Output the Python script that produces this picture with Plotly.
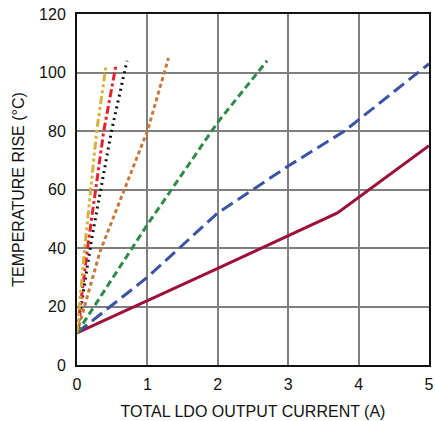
import plotly.graph_objects as go

# Temperature rise versus total LDO output current, one curve per configuration
x_solid = [0, 2.0, 3.7, 5.0]
y_solid = [11, 33, 52, 75]

x_blue = [0, 1.0, 2.0, 3.0, 3.8, 5.0]
y_blue = [11, 30, 52, 68, 80, 103]

x_green = [0, 1.0, 2.0, 2.7]
y_green = [11, 48, 83, 104]

x_orange = [0, 0.33, 1.0, 1.3]
y_orange = [11, 39, 80, 105]

x_black = [0, 0.2, 0.49, 0.71]
y_black = [11, 42, 80, 104]

x_red = [0, 0.15, 0.38, 0.55]
y_red = [11, 40, 80, 102]

x_yellow = [0, 0.11, 0.28, 0.41]
y_yellow = [11, 40, 80, 102]

x_ticks = [0, 1, 2, 3, 4, 5]
y_ticks = [0, 20, 40, 60, 80, 100, 120]

FONT = "Liberation Sans Narrow, Arial Narrow, Liberation Sans, Arial, sans-serif"

series = [
    (x_solid, y_solid, "#9E1039", "solid"),
    (x_blue, y_blue, "#3A53A4", "13px,6px"),
    (x_green, y_green, "#2E8B4A", "7px,4px"),
    (x_orange, y_orange, "#C8783A", "4px,3px"),
    (x_black, y_black, "#111111", "2px,4px"),
    (x_red, y_red, "#E4232F", "8px,3px,3px,3px"),
    (x_yellow, y_yellow, "#D6B23C", "8px,3px,3px,3px,3px,3px"),
]

fig = go.Figure()
for xs, ys, color, dash in series:
    fig.add_trace(go.Scatter(
        x=xs, y=ys, mode="lines",
        line=dict(color=color, width=3, dash=dash),
        showlegend=False, hoverinfo="skip",
    ))

fig.update_layout(
    width=435, height=421,
    margin=dict(l=77, r=6, t=14, b=56),
    paper_bgcolor="white", plot_bgcolor="white",
    font=dict(family=FONT, size=16, color="#111111"),
)
fig.update_xaxes(
    range=[0, 5], tickvals=x_ticks, ticks="",
    showgrid=True, gridcolor="#7f7f7f", gridwidth=1.5,
    showline=True, linecolor="#111111", linewidth=2, mirror=True,
    zeroline=False, automargin=False, ticklabelstandoff=4,
    title=dict(text="TOTAL LDO OUTPUT CURRENT (A)", font=dict(size=16), standoff=14),
)
fig.update_yaxes(
    range=[0, 120], tickvals=y_ticks, ticks="",
    showgrid=True, gridcolor="#7f7f7f", gridwidth=1.5,
    showline=True, linecolor="#111111", linewidth=2, mirror=True,
    zeroline=False, automargin=False, ticklabelstandoff=6,
    title=dict(text="TEMPERATURE RISE (°C)", font=dict(size=16), standoff=10),
)

fig.write_html("out.html")
